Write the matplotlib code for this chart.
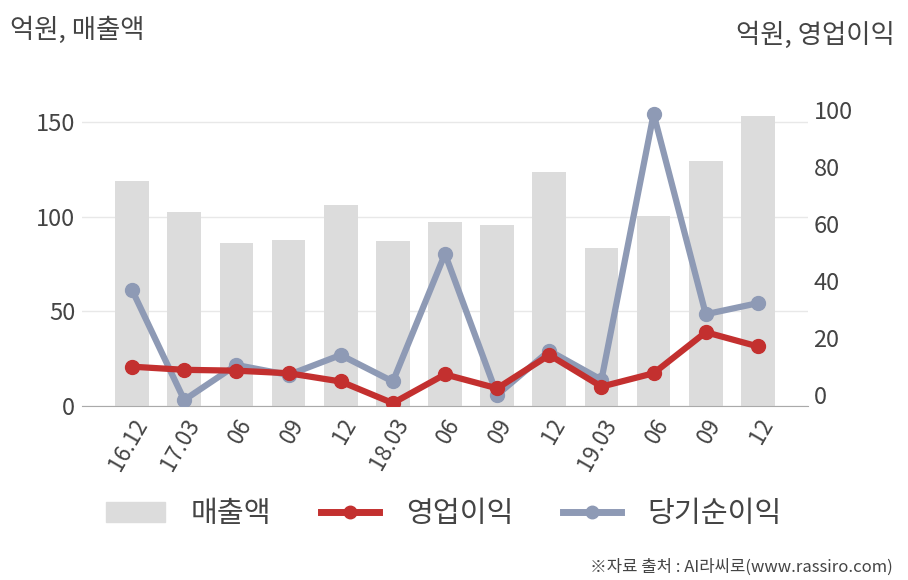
import matplotlib
matplotlib.use("Agg")
import matplotlib.pyplot as plt
from matplotlib.patches import Patch
from matplotlib.lines import Line2D

plt.rcParams['font.family'] = ['Noto Sans CJK KR', 'DejaVu Sans']

# data (억원)
periods = ['16.12', '17.03', '06', '09', '12', '18.03', '06', '09', '12',
           '19.03', '06', '09', '12']
sales = [119, 102.5, 86, 87.7, 106, 87.2, 97, 95.6, 123.6, 83.6, 100.4, 129.4, 153.4]
op_profit = [9.9, 8.8, 8.5, 7.6, 4.7, -2.9, 7.2, 2.3, 14, 2.9, 7.6, 22, 17]
net_income = [36.8, -1.8, 10.5, 7, 14, 4.7, 49.5, 0, 15.5, 5.3, 98.6, 28.3, 32.2]

bar_color = '#dcdcdc'
red = '#c3302f'
blue = '#8e9ab5'
text_color = '#444444'

fig = plt.figure(figsize=(9.08, 5.80), dpi=100)
ax = fig.add_axes([82 / 908, 1 - 406 / 580, 726 / 908, 306 / 580])
x = list(range(len(periods)))

ax.bar(x, sales, width=0.646, color=bar_color, zorder=2)
ax.set_xlim(-0.96, 12.96)
ax.set_ylim(0, 161.6)
ax.set_yticks([0, 50, 100, 150])
ax.grid(axis='y', color='#e8e8e8', linewidth=1, zorder=0)
ax.set_axisbelow(True)
for s in ['top', 'right', 'left']:
    ax.spines[s].set_visible(False)
ax.spines['bottom'].set_color('#aaaaaa')
ax.tick_params(axis='both', length=0, colors=text_color)
ax.tick_params(axis='y', labelsize=17, pad=5)
ax.set_xticks(x)
ax.set_xticklabels(periods, rotation=60, ha='right', va='top',
                   rotation_mode='anchor', fontsize=16)
ax.tick_params(axis='x', pad=6)

ax2 = ax.twinx()
ax2.plot(x, net_income, color=blue, linewidth=4.5, marker='o', markersize=10, zorder=3)
ax2.plot(x, op_profit, color=red, linewidth=4.5, marker='o', markersize=10, zorder=4)
ax2.set_ylim(-3.9, 103.5)
ax2.set_yticks([0, 20, 40, 60, 80, 100])
for s in ['top', 'right', 'left', 'bottom']:
    ax2.spines[s].set_visible(False)
ax2.tick_params(axis='y', length=0, colors=text_color, labelsize=17, pad=4)

fig.text(10 / 908, 1 - 30 / 580, '억원, 매출액', fontsize=19, color=text_color,
         ha='left', va='center')
fig.text(895 / 908, 1 - 35 / 580, '억원, 영업이익', fontsize=19, color=text_color,
         ha='right', va='center')

handles = [Patch(color=bar_color),
           Line2D([], [], color=red, linewidth=5, marker='o', markersize=9),
           Line2D([], [], color=blue, linewidth=5, marker='o', markersize=9)]
fig.legend(handles, ['매출액', '영업이익', '당기순이익'], loc='center',
           bbox_to_anchor=(444 / 908, 1 - 514 / 580), ncol=3, frameon=False,
           fontsize=21, handlelength=2.0, handletextpad=0.9, columnspacing=1.7,
           labelcolor=text_color)

fig.text(893 / 908, 1 - 567 / 580, '※자료 출처 : AI라씨로(www.rassiro.com)',
         fontsize=12, color=text_color, ha='right', va='center')

fig.savefig('out.png', dpi=100)
